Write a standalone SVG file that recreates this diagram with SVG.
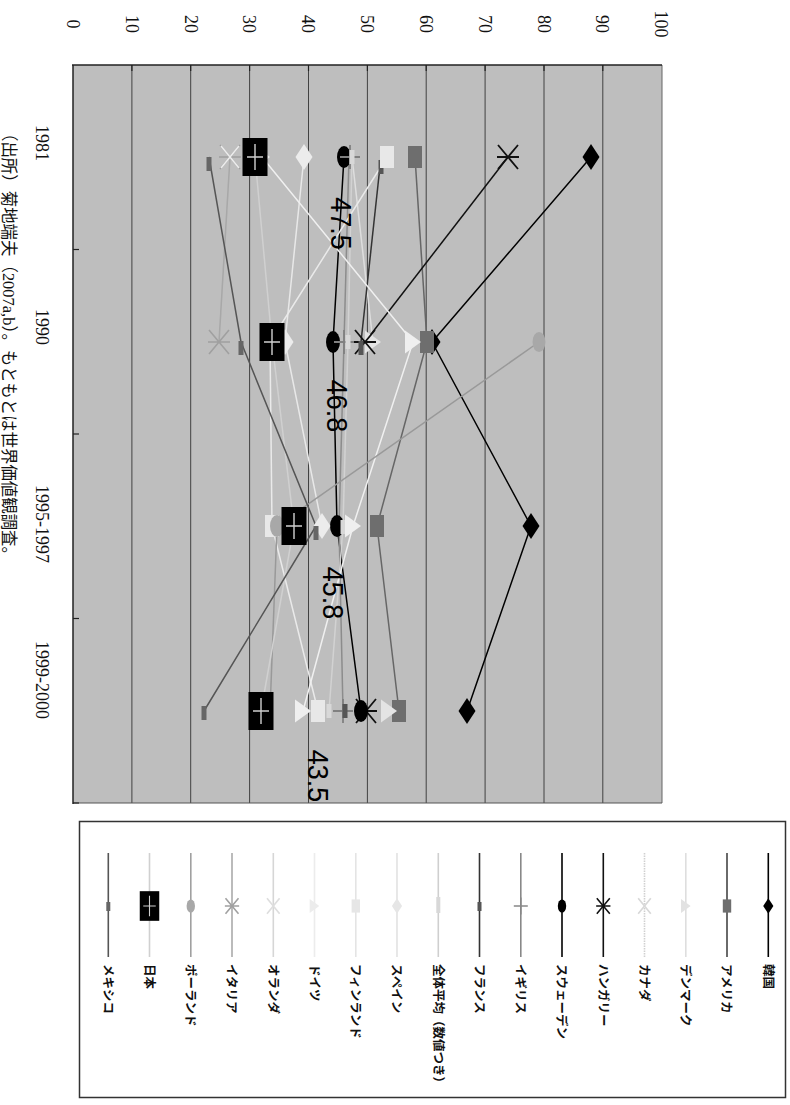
<svg xmlns="http://www.w3.org/2000/svg" xmlns:xlink="http://www.w3.org/1999/xlink" width="790" height="1105" viewBox="0 0 790 1105">
<style>
.ax{font-family:"Liberation Serif","Noto Sans CJK JP",serif;font-size:18px;fill:#111}
.cap{font-family:"Liberation Serif","Noto Sans CJK JP",serif;font-size:17px;fill:#111}
.dl{font-family:"Liberation Sans",Arial,sans-serif;font-size:27px;fill:#000}
.lg{font-family:"Noto Sans CJK JP","Noto Sans CJK SC",sans-serif;font-size:12.5px;fill:#111;font-weight:bold}
.grid{stroke:#333;stroke-width:0.9}
.sl{fill:none;stroke-width:1.5;stroke-linejoin:round}
</style>
<defs>
<path id="dia" d="M0,-13 L8.5,0 L0,13 L-8.5,0 Z"/>
<rect id="sq" x="-7" y="-11" width="14" height="22"/>
<path id="tri" d="M-8,-11.5 L8,0 L-8,11.5 Z"/>
<ellipse id="cir" cx="0" cy="0" rx="7" ry="11"/>
<path id="xx" d="M-9,-11 L9,11 M-9,11 L9,-11" fill="none"/>
<path id="ast" d="M-10,-12 L10,12 M-10,12 L10,-12 M-11,0 L11,0" fill="none"/>
<path id="pl" d="M-10,0 L10,0 M0,-12 L0,12" fill="none"/>
<rect id="bar" x="-2.5" y="0" width="5" height="14"/>
<g id="jp"><rect x="-12.5" y="-19" width="25" height="38" fill="#000"/><path d="M-8,0 L8,0 M0,-13 L0,13" stroke="#d0d0d0" stroke-width="1.4"/></g>
</defs>

<!-- plot area -->
<g id="plot">
<rect x="73" y="65" width="589" height="738" fill="#bebebe"/>
<g class="grid">
<line x1="131.9" y1="65" x2="131.9" y2="803"/>
<line x1="190.7" y1="65" x2="190.7" y2="803"/>
<line x1="249.6" y1="65" x2="249.6" y2="803"/>
<line x1="308.5" y1="65" x2="308.5" y2="803"/>
<line x1="367.4" y1="65" x2="367.4" y2="803"/>
<line x1="426.2" y1="65" x2="426.2" y2="803"/>
<line x1="485.1" y1="65" x2="485.1" y2="803"/>
<line x1="544" y1="65" x2="544" y2="803"/>
<line x1="602.8" y1="65" x2="602.8" y2="803"/>
</g>
<line x1="662" y1="65" x2="662" y2="803" stroke="#666" stroke-width="1"/>
<line x1="73" y1="803" x2="662" y2="803" stroke="#555" stroke-width="1"/>
<line x1="72" y1="65" x2="662" y2="65" stroke="#222" stroke-width="1.5"/>
<line x1="73" y1="65" x2="73" y2="804" stroke="#222" stroke-width="1.5"/>
<g stroke="#222" stroke-width="1.2">
<line x1="131.9" y1="65" x2="131.9" y2="71"/><line x1="190.7" y1="65" x2="190.7" y2="71"/>
<line x1="249.6" y1="65" x2="249.6" y2="71"/><line x1="308.5" y1="65" x2="308.5" y2="71"/>
<line x1="367.4" y1="65" x2="367.4" y2="71"/><line x1="426.2" y1="65" x2="426.2" y2="71"/>
<line x1="485.1" y1="65" x2="485.1" y2="71"/><line x1="544" y1="65" x2="544" y2="71"/>
<line x1="602.8" y1="65" x2="602.8" y2="71"/>
<line x1="73" y1="249.5" x2="79" y2="249.5"/><line x1="73" y1="434" x2="79" y2="434"/>
<line x1="73" y1="618.5" x2="79" y2="618.5"/><line x1="73" y1="803" x2="79" y2="803"/>
</g>
</g>

<!-- value axis labels -->
<g id="value-axis">
<text class="ax" text-anchor="middle" transform="translate(66.5,24) rotate(90)">0</text>
<text class="ax" text-anchor="middle" transform="translate(125.5,24) rotate(90)">10</text>
<text class="ax" text-anchor="middle" transform="translate(184.5,24) rotate(90)">20</text>
<text class="ax" text-anchor="middle" transform="translate(243.2,24) rotate(90)">30</text>
<text class="ax" text-anchor="middle" transform="translate(302,24) rotate(90)">40</text>
<text class="ax" text-anchor="middle" transform="translate(361,24) rotate(90)">50</text>
<text class="ax" text-anchor="middle" transform="translate(419.8,24) rotate(90)">60</text>
<text class="ax" text-anchor="middle" transform="translate(478.6,24) rotate(90)">70</text>
<text class="ax" text-anchor="middle" transform="translate(537.5,24) rotate(90)">80</text>
<text class="ax" text-anchor="middle" transform="translate(596.3,24) rotate(90)">90</text>
<text class="ax" text-anchor="middle" transform="translate(655.2,24) rotate(90)">100</text>
</g>

<!-- category labels -->
<g id="category-axis">
<text class="ax" text-anchor="middle" transform="translate(36,143) rotate(90)">1981</text>
<text class="ax" text-anchor="middle" transform="translate(36,327) rotate(90)">1990</text>
<text class="ax" text-anchor="middle" transform="translate(36,524) rotate(90)">1995-1997</text>
<text class="ax" text-anchor="middle" transform="translate(36,680) rotate(90)">1999-2000</text>
</g>

<text id="caption" class="cap" transform="translate(3,125) rotate(90)" textLength="438" lengthAdjust="spacingAndGlyphs">（出所）菊地端夫（2007a,b）。もともとは世界価値観調査。</text>

<!-- series lines -->
<g id="connectors">
<polyline class="sl" stroke="#000" points="591,157 432,342 531,526 467,711"/>
<polyline class="sl" stroke="#666" points="415,157 427,342 377,526 399,711"/>
<polyline class="sl" stroke="#dedede" points="352,157 373,342"/>
<polyline class="sl" stroke="#111" points="508,157 365,342"/>
<polyline class="sl" stroke="#000" points="344,157 333,342 337,526 361,711"/>
<polyline class="sl" stroke="#8c8c8c" stroke-width="1.2" points="349,157 344,342 339,526 343,711"/>
<polyline class="sl" stroke="#333" points="381,157 361,342"/>
<polyline class="sl" stroke="#d2d2d2" points="352,157 348,342 343,526 329,711"/>
<polyline class="sl" stroke="#e8e8e8" points="304,157 285,342 322,526"/>
<polyline class="sl" stroke="#eaeaea" points="387,157 270,342 272,526 318,711"/>
<polyline class="sl" stroke="#f0f0f0" points="262,157 413,342 353,526 303,711"/>
<polyline class="sl" stroke="#a8a8a8" stroke-width="1" points="230,157 219,342"/>
<polyline class="sl" stroke="#999" stroke-width="1.2" points="539,342 277,526 270,711"/>
<polyline class="sl" stroke="#d0d0d0" points="255,157 272,342 294,526 261,711"/>
<polyline class="sl" stroke="#555" points="209,157 241,342 316,526 204,711"/>
</g>

<!-- series markers -->
<g id="s-korea" fill="#000"><use href="#dia" x="591" y="157"/><use href="#dia" x="432" y="342"/><use href="#dia" x="531" y="526"/><use href="#dia" x="467" y="711"/></g>
<g id="s-usa" fill="#6e6e6e"><use href="#sq" x="415" y="157"/><use href="#sq" x="427" y="342"/><use href="#sq" x="377" y="526"/><use href="#sq" x="399" y="711"/></g>
<g id="s-denmark" fill="#e4e4e4"><use href="#tri" x="373" y="342"/><use href="#tri" x="389" y="711"/></g>
<g id="s-hungary" stroke="#111" stroke-width="1.8"><use href="#ast" x="508" y="157"/><use href="#ast" x="365" y="342"/><use href="#ast" x="366" y="711"/></g>
<g id="s-sweden" fill="#000"><use href="#cir" x="344" y="157"/><use href="#cir" x="333" y="342"/><use href="#cir" x="337" y="526"/><use href="#cir" x="361" y="711"/></g>
<g id="s-uk" stroke="#808080" stroke-width="1.8"><use href="#pl" x="350" y="157"/><use href="#pl" x="344" y="342"/><use href="#pl" x="343" y="711"/></g>
<g id="s-france" fill="#555"><use href="#bar" x="381" y="160"/><use href="#bar" x="361" y="341"/><use href="#bar" x="345" y="704"/></g>
<g id="s-average" fill="#d8d8d8"><use href="#bar" x="352" y="150"/><use href="#bar" x="348" y="335"/><use href="#bar" x="343" y="520"/><use href="#bar" x="329" y="704"/></g>
<g id="s-spain" fill="#ececec"><use href="#dia" x="304" y="157"/><use href="#dia" x="285" y="342"/><use href="#dia" x="322" y="526"/></g>
<g id="s-finland" fill="#e8e8e8"><use href="#sq" x="387" y="157"/><use href="#sq" x="270" y="342"/><use href="#sq" x="272" y="526"/><use href="#sq" x="318" y="711"/></g>
<g id="s-germany" fill="#efefef"><use href="#tri" x="262" y="157"/><use href="#tri" x="413" y="342"/><use href="#tri" x="353" y="526"/><use href="#tri" x="303" y="711"/></g>
<g id="s-italy" stroke="#a0a0a0" stroke-width="1.6"><use href="#ast" x="230" y="157"/><use href="#ast" x="219" y="342"/></g>
<g id="s-netherlands" stroke="#ececec" stroke-width="1.6"><use href="#xx" x="230" y="157"/></g>
<g id="s-poland" fill="#a8a8a8"><use href="#cir" transform="translate(539,342) scale(0.92)"/><use href="#cir" x="277" y="526"/></g>
<g id="s-japan"><use href="#jp" x="255" y="157"/><use href="#jp" x="272" y="342"/><use href="#jp" x="294" y="526"/><use href="#jp" x="261" y="711"/></g>
<g id="s-mexico" fill="#666"><use href="#bar" x="209" y="157"/><use href="#bar" x="241" y="341"/><use href="#bar" x="316" y="526"/><use href="#bar" x="204" y="706"/></g>

<!-- data labels -->
<g id="data-labels">
<text class="dl" text-anchor="middle" transform="translate(331,223.5) rotate(90) scale(1,1.12)">47.5</text>
<text class="dl" text-anchor="middle" transform="translate(327,406) rotate(90) scale(1,1.12)">46.8</text>
<text class="dl" text-anchor="middle" transform="translate(322.5,593) rotate(90) scale(1,1.12)">45.8</text>
<text class="dl" text-anchor="middle" transform="translate(308,776) rotate(90) scale(1,1.12)">43.5</text>
</g>

<!-- legend -->
<g id="legend">
<rect x="79.5" y="821.5" width="706" height="276" fill="#fff" stroke="#333" stroke-width="1.5"/>
<g stroke-width="1.6">
<line x1="768.3" y1="853" x2="768.3" y2="957" stroke="#000"/>
<line x1="727" y1="853" x2="727" y2="957" stroke="#6a6a6a" stroke-width="2"/>
<line x1="685.8" y1="853" x2="685.8" y2="957" stroke="#dedede"/>
<line x1="644.5" y1="853" x2="644.5" y2="957" stroke="#d0d0d0" stroke-dasharray="1.5,1"/>
<line x1="603.3" y1="853" x2="603.3" y2="957" stroke="#111"/>
<line x1="562" y1="853" x2="562" y2="957" stroke="#000"/>
<line x1="520.8" y1="853" x2="520.8" y2="957" stroke="#888"/>
<line x1="479.5" y1="853" x2="479.5" y2="957" stroke="#333"/>
<line x1="438.3" y1="853" x2="438.3" y2="957" stroke="#cfcfcf"/>
<line x1="397" y1="853" x2="397" y2="957" stroke="#e2e2e2"/>
<line x1="355.8" y1="853" x2="355.8" y2="957" stroke="#e4e4e4"/>
<line x1="314.5" y1="853" x2="314.5" y2="957" stroke="#ececec"/>
<line x1="273.3" y1="853" x2="273.3" y2="957" stroke="#d6d6d6"/>
<line x1="232" y1="853" x2="232" y2="957" stroke="#aaa"/>
<line x1="190.8" y1="853" x2="190.8" y2="957" stroke="#a0a0a0"/>
<line x1="149.5" y1="853" x2="149.5" y2="957" stroke="#d0d0d0"/>
<line x1="108.3" y1="853" x2="108.3" y2="957" stroke="#555"/>
</g>
<use href="#dia" fill="#000" transform="translate(768.3,906) scale(0.6)"/>
<use href="#sq" fill="#6e6e6e" transform="translate(727,906) scale(0.6)"/>
<use href="#tri" fill="#e2e2e2" transform="translate(685.8,906) scale(0.6)"/>
<use href="#xx" stroke="#d8d8d8" stroke-width="2.4" transform="translate(644.5,906) scale(0.7)"/>
<use href="#ast" stroke="#111" stroke-width="2.4" transform="translate(603.3,906) scale(0.65)"/>
<use href="#cir" fill="#000" transform="translate(562,906) scale(0.6)"/>
<use href="#pl" stroke="#888" stroke-width="2.2" transform="translate(520.8,906) scale(0.7)"/>
<rect x="477.5" y="902" width="4" height="9" fill="#555"/>
<rect x="436.3" y="897" width="4" height="16" fill="#d8d8d8"/>
<use href="#dia" fill="#e6e6e6" transform="translate(397,906) scale(0.6)"/>
<use href="#sq" fill="#e6e6e6" transform="translate(355.8,906) scale(0.6)"/>
<use href="#tri" fill="#ececec" transform="translate(314.5,906) scale(0.6)"/>
<use href="#xx" stroke="#dedede" stroke-width="2.4" transform="translate(273.3,906) scale(0.7)"/>
<use href="#ast" stroke="#a0a0a0" stroke-width="2.4" transform="translate(232,906) scale(0.65)"/>
<use href="#cir" fill="#a8a8a8" transform="translate(190.8,906) scale(0.6)"/>
<use href="#jp" transform="translate(149.5,906) scale(0.78)"/>
<rect x="106.3" y="902" width="4" height="9" fill="#666"/>
<g class="lg">
<text transform="translate(763.5,964) rotate(90)">韓国</text>
<text transform="translate(722.2,964) rotate(90)">アメリカ</text>
<text transform="translate(681,964) rotate(90)">デンマーク</text>
<text transform="translate(639.7,964) rotate(90)">カナダ</text>
<text transform="translate(598.5,964) rotate(90)">ハンガリー</text>
<text transform="translate(557.2,964) rotate(90)">スウェーデン</text>
<text transform="translate(516,964) rotate(90)">イギリス</text>
<text transform="translate(474.7,964) rotate(90)">フランス</text>
<text transform="translate(433.5,964) rotate(90)">全体平均（数値つき）</text>
<text transform="translate(392.2,964) rotate(90)">スペイン</text>
<text transform="translate(351,964) rotate(90)">フィンランド</text>
<text transform="translate(309.7,964) rotate(90)">ドイツ</text>
<text transform="translate(268.5,964) rotate(90)">オランダ</text>
<text transform="translate(227.2,964) rotate(90)">イタリア</text>
<text transform="translate(186,964) rotate(90)">ポーランド</text>
<text transform="translate(144.7,964) rotate(90)">日本</text>
<text transform="translate(103.5,964) rotate(90)">メキシコ</text>
</g>
</g>
</svg>
